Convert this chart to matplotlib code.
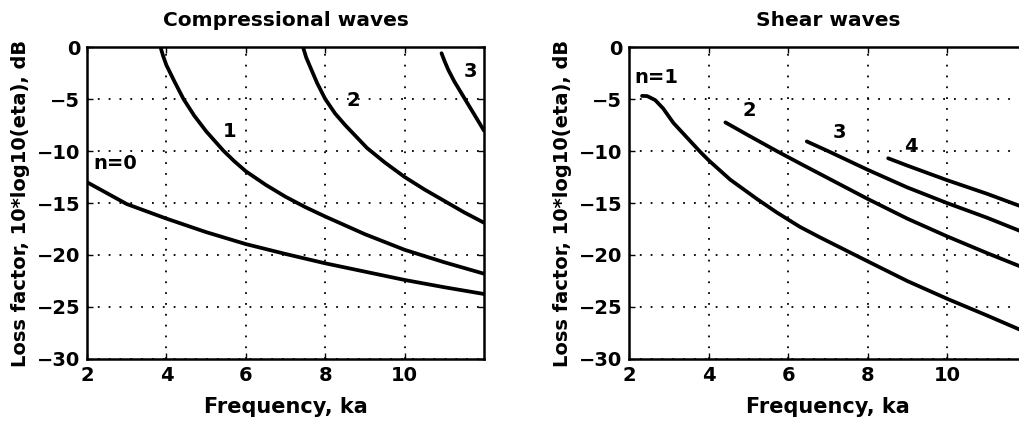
import numpy as np
import matplotlib.pyplot as plt

plt.rcParams['font.family'] = ['DejaVu Sans']
plt.rcParams['font.weight'] = 'bold'

# compressional waves, loss factor in dB per mode n
comp_x0 = [2, 3, 4, 5, 6, 7, 8, 9, 10, 11, 12]
comp_y0 = [-13.0, -15.1, -16.5, -17.8, -18.95, -19.9, -20.8, -21.6, -22.4, -23.1, -23.75]
comp_x1 = [3.85, 3.92, 4.0, 4.2, 4.43, 4.7, 5.0, 5.43, 5.7, 6.0, 6.5, 7.0, 7.5, 8.0, 9.0, 10.0, 11.0, 12.0]
comp_y1 = [0.0, -0.9, -1.75, -3.3, -5.0, -6.6, -8.1, -9.95, -10.95, -11.95, -13.25, -14.4, -15.4, -16.3, -18.0, -19.5, -20.7, -21.8]
comp_x2 = [7.44, 7.52, 7.62, 7.8, 8.0, 8.25, 8.5, 9.05, 9.5, 10.0, 10.5, 11.0, 11.5, 12.0]
comp_y2 = [0.0, -1.0, -1.9, -3.5, -5.0, -6.4, -7.5, -9.7, -11.1, -12.5, -13.7, -14.8, -15.9, -16.9]
comp_x3 = [10.93, 11.0, 11.1, 11.25, 11.55, 11.78, 12.0]
comp_y3 = [-0.6, -1.3, -2.2, -3.3, -5.2, -6.65, -8.05]

# shear waves
shear_x1 = [2.32, 2.45, 2.65, 2.85, 3.11, 3.45, 3.79, 4.0, 4.54, 5.21, 5.71, 6.3, 6.8, 8.0, 9.0, 10.0, 11.0, 11.85]
shear_y1 = [-4.7, -4.72, -5.1, -5.9, -7.3, -8.7, -10.1, -10.9, -12.75, -14.6, -15.9, -17.3, -18.3, -20.6, -22.5, -24.2, -25.8, -27.2]
shear_x2 = [4.42, 5.0, 5.71, 6.3, 7.0, 8.0, 9.0, 10.0, 11.0, 11.85]
shear_y2 = [-7.25, -8.5, -10.0, -11.2, -12.6, -14.6, -16.5, -18.2, -19.8, -21.1]
shear_x3 = [6.47, 7.0, 8.0, 9.0, 10.0, 11.0, 11.85]
shear_y3 = [-9.08, -10.0, -11.8, -13.5, -15.0, -16.4, -17.7]
shear_x4 = [8.52, 9.0, 10.0, 11.0, 11.85]
shear_y4 = [-10.7, -11.4, -12.8, -14.1, -15.3]

xticks = [2, 4, 6, 8, 10]
yticks = [0, -5, -10, -15, -20, -25, -30]

fig = plt.figure(figsize=(10.19, 4.25), dpi=100)
ax1 = fig.add_axes([0.0854, 0.1553, 0.3896, 0.7341])
ax2 = fig.add_axes([0.6176, 0.1553, 0.3896, 0.7341])


def style(ax, title):
    ax.set_xlim(2, 12)
    ax.set_ylim(-30, 0)
    ax.set_xticks(xticks)
    ax.set_yticks(yticks)
    ax.grid(True, color='black', linestyle=(0, (1, 5)), linewidth=1.3)
    ax.tick_params(direction='in', length=4, width=1, labelsize=14, pad=5,
                   top=True, right=True)
    for sp in ax.spines.values():
        sp.set_linewidth(1.8)
    ax.set_title(title, fontsize=14.5, fontweight='bold', pad=15)
    ax.set_xlabel('Frequency, ka', fontsize=15, fontweight='bold', labelpad=9)
    ax.set_ylabel('Loss factor, 10*log10(eta), dB', fontsize=14, fontweight='bold', labelpad=5)


lw = 2.7
for x, y in [(comp_x0, comp_y0), (comp_x1, comp_y1), (comp_x2, comp_y2), (comp_x3, comp_y3)]:
    ax1.plot(x, y, color='black', linewidth=lw, solid_capstyle='round')
ax1.text(2.7, -11.2, 'n=0', fontsize=14, ha='center', va='center')
ax1.text(5.6, -8.1, '1', fontsize=14, ha='center', va='center')
ax1.text(8.7, -5.1, '2', fontsize=14, ha='center', va='center')
ax1.text(11.65, -2.4, '3', fontsize=14, ha='center', va='center')
style(ax1, 'Compressional waves')

for x, y in [(shear_x1, shear_y1), (shear_x2, shear_y2), (shear_x3, shear_y3), (shear_x4, shear_y4)]:
    ax2.plot(x, y, color='black', linewidth=lw, solid_capstyle='round')
ax2.text(2.68, -2.9, 'n=1', fontsize=14, ha='center', va='center')
ax2.text(5.02, -6.1, '2', fontsize=14, ha='center', va='center')
ax2.text(7.3, -8.2, '3', fontsize=14, ha='center', va='center')
ax2.text(9.1, -9.6, '4', fontsize=14, ha='center', va='center')
style(ax2, 'Shear waves')

fig.savefig('out.png', dpi=100)
